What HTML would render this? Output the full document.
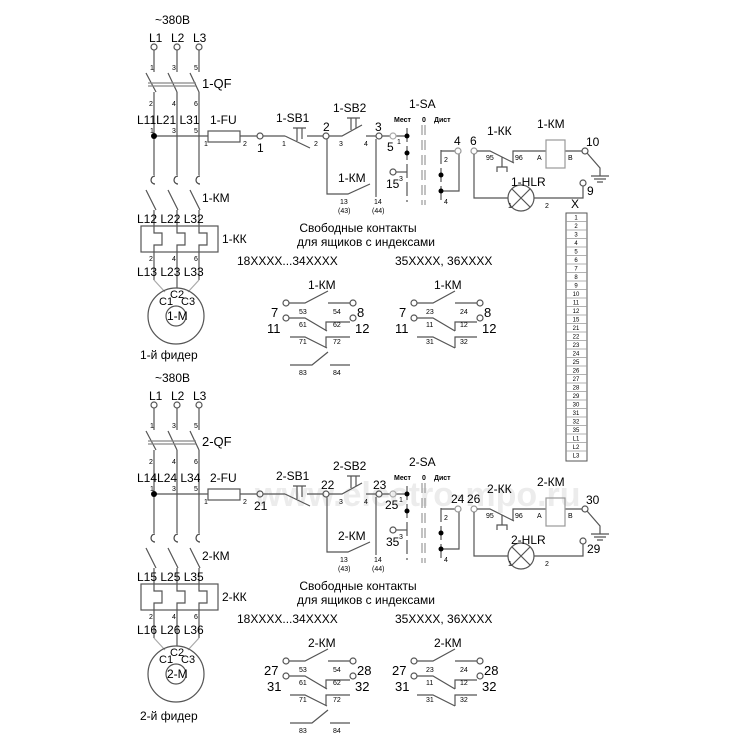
<!DOCTYPE html>
<html><head><meta charset="utf-8"><style>
body{margin:0;background:#fff}
svg{display:block}
text{font-family:"Liberation Sans",Arial,sans-serif;fill:#000}
.s{font-size:7px}
.m{font-size:12px}
.b{font-size:13px}
.c{font-size:11px}
</style></head><body>
<svg width="750" height="750" viewBox="0 0 750 750" xmlns="http://www.w3.org/2000/svg">
<defs>
<g id="sh" stroke="#555" stroke-width="1.2" fill="none">
 <circle cx="154" cy="47" r="3"/><circle cx="177" cy="47" r="3"/><circle cx="199" cy="47" r="3"/>
 <path d="M154 50V72M177 50V72M199 50V72"/>
 <path d="M146 73L156 92M168 73L177 92M190 73L199 92"/>
 <path d="M148 83H196M148 86H196" stroke="#888"/>
 <path d="M154 92V175M177 92V175M199 92V175"/>
 <path d="M154 136H208M240 136H257M263 136H285"/>
 <rect x="208" y="131" width="32" height="11"/>
 <circle cx="260" cy="136" r="3"/>
 <path d="M285 136L310 148M307 136H323"/>
 <path d="M297 141V128M302 139V128M293 128H306"/>
 <circle cx="326" cy="136" r="3"/>
 <path d="M329 136H342L362 125M366 136H376"/>
 <path d="M351 130V118M356 128V118M347 118H360"/>
 <circle cx="379" cy="136" r="3"/>
 <path d="M327 139V194H348L370 184M376 139V197"/>
 <path d="M382 136H390M396 136H407" /><circle cx="393" cy="136" r="3" stroke="#aaa"/>
 <path d="M407 128V202" stroke-dasharray="14 4"/>
 <path d="M422 125V205M425 125V205" stroke-dasharray="10 5" stroke="#999"/>
 <path d="M441 150V200" stroke-dasharray="14 4"/>
 <circle cx="393" cy="172" r="3"/><path d="M396 172H407"/>
 <path d="M441 151H455M459 154V191H441"/>
 <circle cx="458" cy="151" r="3" stroke="#999"/>
 <circle cx="474" cy="151" r="3" stroke="#999"/>
 <path d="M477 151H490L514 163M513 163V151H546M565 151H582"/>
 <path d="M502 157V167M497 172V167H507V172"/>
 <rect x="546" y="140" width="19" height="28" stroke="#999"/>
 <circle cx="585" cy="151" r="3"/>
 <path d="M587 153L600 168V176M591 176H609M594 179H606M597 182H603"/>
 <path d="M474 154V198H508M534 198H583V186"/>
 <circle cx="521" cy="198" r="13"/>
 <path d="M512 189L530 207M530 189L512 207"/>
 <circle cx="583" cy="183" r="3"/>
 <path d="M155 176a4 4 0 1 0 0 8M178 176a4 4 0 1 0 0 8M200 176a4 4 0 1 0 0 8" stroke="#444"/>
 <path d="M146 190L156 210M168 190L178 210M190 190L200 210"/>
 <path d="M154 210V226M177 210V226M199 210V226"/>
 <rect x="141" y="226" width="77" height="26"/>
 <path d="M154 226V233H162V245H154V252M177 226V233H185V245H177V252M199 226V233H207V245H199V252"/>
 <path d="M154 252V280M177 252V288M199 252V280"/>
 <path d="M154 280L165 292M199 280L188 292" stroke="#aaa"/>
 <circle cx="176" cy="316" r="28"/>
 <circle cx="176" cy="316" r="10"/>
 <circle cx="286" cy="303" r="3"/><path d="M289 303H305L328 291M328 303H350"/><circle cx="353" cy="303" r="3"/>
 <circle cx="286" cy="318" r="3"/><path d="M289 318H305L327 331M326 331V322H350"/><circle cx="353" cy="318" r="3"/>
 <path d="M290 337H305L327 348M326 348V337H350"/>
 <path d="M290 365H312L328 352M330 365H350"/>
 <circle cx="414" cy="303" r="3"/><path d="M417 303H433L455 291M455 303H477"/><circle cx="480" cy="303" r="3"/>
 <circle cx="414" cy="318" r="3"/><path d="M417 318H433L455 331M455 331V322H477"/><circle cx="480" cy="318" r="3"/>
 <path d="M417 337H433L455 348M455 348V337H477"/>
</g>
</defs>
<text x="255" y="506" font-size="34" font-weight="bold" style="fill:#ececec;font-family:'Liberation Sans',sans-serif">www.electro-mpo.ru</text>
<use href="#sh"/>
<use href="#sh" transform="translate(0,358)"/>
<g fill="#000"><circle cx="154" cy="136" r="3"/><circle cx="407" cy="136" r="2.5"/><circle cx="407" cy="153" r="2.5"/><circle cx="441" cy="175" r="2.5"/><circle cx="441" cy="191" r="2.5"/>
<circle cx="154" cy="494" r="3"/><circle cx="407" cy="494" r="2.5"/><circle cx="407" cy="511" r="2.5"/><circle cx="441" cy="533" r="2.5"/><circle cx="441" cy="549" r="2.5"/></g>

<g stroke="#555" fill="none"><rect x="566" y="213" width="21" height="248"/></g>
<text x="571" y="208" class="m">X</text>
<g stroke="#999" stroke-width="0.8">
<path d="M566 221.5H587M566 230H587M566 238.5H587M566 247H587M566 255.5H587M566 264H587M566 272.5H587M566 281H587M566 289.5H587M566 298H587M566 306.5H587M566 315H587M566 323.5H587M566 332H587M566 340.5H587M566 349H587M566 357.5H587M566 366H587M566 374.5H587M566 383H587M566 391.5H587M566 400H587M566 408.5H587M566 417H587M566 425.5H587M566 434H587M566 442.5H587M566 451H587"/>
</g>
<g font-size="6" text-anchor="middle">
<text x="576" y="219.5">1</text><text x="576" y="228">2</text><text x="576" y="236.5">3</text><text x="576" y="245">4</text><text x="576" y="253.5">5</text><text x="576" y="262">6</text><text x="576" y="270.5">7</text><text x="576" y="279">8</text><text x="576" y="287.5">9</text><text x="576" y="296">10</text><text x="576" y="304.5">11</text><text x="576" y="313">12</text><text x="576" y="321.5">15</text><text x="576" y="330">21</text><text x="576" y="338.5">22</text><text x="576" y="347">23</text><text x="576" y="355.5">24</text><text x="576" y="364">25</text><text x="576" y="372.5">26</text><text x="576" y="381">27</text><text x="576" y="389.5">28</text><text x="576" y="398">29</text><text x="576" y="406.5">30</text><text x="576" y="415">31</text><text x="576" y="423.5">32</text><text x="576" y="432">35</text><text x="576" y="440.5">L1</text><text x="576" y="449">L2</text><text x="576" y="457.5">L3</text>
</g>

<g>
<text x="155" y="24" class="m">~380В</text>
<text x="149" y="42" class="m">L1</text><text x="171" y="42" class="m">L2</text><text x="193" y="42" class="m">L3</text>
<text x="150" y="70" class="s">1</text><text x="172" y="70" class="s">3</text><text x="194" y="70" class="s">5</text>
<text x="202" y="88" class="b">1-QF</text>
<text x="149" y="106" class="s">2</text><text x="172" y="106" class="s">4</text><text x="194" y="106" class="s">6</text>
<text x="137" y="124" class="m">L11L21 L31</text>
<text x="150" y="133" class="s">1</text><text x="172" y="133" class="s">3</text><text x="194" y="133" class="s">5</text>
<text x="210" y="124" class="m">1-FU</text>
<text x="204" y="146" class="s">1</text><text x="243" y="146" class="s">2</text>
<text x="257" y="152" class="m">1</text>
<text x="276" y="122" class="m">1-SB1</text>
<text x="282" y="146" class="s">1</text><text x="314" y="146" class="s">2</text>
<text x="323" y="131" class="m">2</text>
<text x="333" y="112" class="m">1-SB2</text>
<text x="339" y="146" class="s">3</text><text x="364" y="146" class="s">4</text>
<text x="375" y="131" class="m">3</text>
<text x="338" y="182" class="m">1-КМ</text>
<text x="340" y="204" class="s">13</text><text x="338" y="213" class="s">(43)</text>
<text x="374" y="204" class="s">14</text><text x="372" y="213" class="s">(44)</text>
<text x="409" y="108" class="m">1-SA</text>
<text x="394" y="122" class="s" font-weight="bold">Мест</text><text x="422" y="122" class="s" font-weight="bold">0</text><text x="434" y="122" class="s" font-weight="bold">Дист</text>
<text x="387" y="151" class="m">5</text><text x="397" y="144" class="s">1</text>
<text x="386" y="188" class="m">15</text><text x="399" y="181" class="s">3</text>
<text x="444" y="162" class="s">2</text><text x="444" y="204" class="s">4</text>
<text x="454" y="145" class="m">4</text><text x="470" y="145" class="m">6</text>
<text x="487" y="135" class="m">1-КК</text>
<text x="486" y="160" class="s">95</text><text x="515" y="160" class="s">96</text>
<text x="537" y="160" class="s">A</text><text x="568" y="160" class="s">B</text>
<text x="537" y="128" class="m">1-КМ</text>
<text x="586" y="146" class="m">10</text>
<text x="587" y="195" class="m">9</text>
<text x="511" y="186" class="m">1-HLR</text>
<text x="508" y="208" class="s">1</text><text x="545" y="208" class="s">2</text>
<text x="202" y="202" class="m">1-КМ</text>
<text x="137" y="223" class="m">L12 L22 L32</text>
<text x="222" y="243" class="m">1-КК</text>
<text x="149" y="261" class="s">2</text><text x="172" y="261" class="s">4</text><text x="194" y="261" class="s">6</text>
<text x="137" y="276" class="m">L13 L23 L33</text>
<text x="159" y="305" class="c">C1</text><text x="170" y="298" class="c">C2</text><text x="181" y="305" class="c">C3</text>
<text x="167" y="320" class="m">1-М</text>
<text x="140" y="359" class="m">1-й фидер</text>
<text x="358" y="232" class="m" text-anchor="middle">Свободные контакты</text>
<text x="366" y="246" class="m" text-anchor="middle">для ящиков с индексами</text>
<text x="237" y="265" class="m">18XXXX...34XXXX</text>
<text x="395" y="265" class="m">35XXXX, 36XXXX</text>
<text x="308" y="289" class="m">1-КМ</text><text x="434" y="289" class="m">1-КМ</text>
<text x="271" y="317" class="b">7</text><text x="357" y="317" class="b">8</text>
<text x="267" y="333" class="b">11</text><text x="355" y="333" class="b">12</text>
<text x="299" y="314" class="s">53</text><text x="333" y="314" class="s">54</text>
<text x="299" y="327" class="s">61</text><text x="333" y="327" class="s">62</text>
<text x="299" y="344" class="s">71</text><text x="333" y="344" class="s">72</text>
<text x="299" y="375" class="s">83</text><text x="333" y="375" class="s">84</text>
<text x="399" y="317" class="b">7</text><text x="484" y="317" class="b">8</text>
<text x="395" y="333" class="b">11</text><text x="482" y="333" class="b">12</text>
<text x="426" y="314" class="s">23</text><text x="460" y="314" class="s">24</text>
<text x="426" y="327" class="s">11</text><text x="460" y="327" class="s">12</text>
<text x="426" y="344" class="s">31</text><text x="460" y="344" class="s">32</text>
</g>

<g transform="translate(0,358)">
<text x="155" y="24" class="m">~380В</text>
<text x="149" y="42" class="m">L1</text><text x="171" y="42" class="m">L2</text><text x="193" y="42" class="m">L3</text>
<text x="150" y="70" class="s">1</text><text x="172" y="70" class="s">3</text><text x="194" y="70" class="s">5</text>
<text x="202" y="88" class="b">2-QF</text>
<text x="149" y="106" class="s">2</text><text x="172" y="106" class="s">4</text><text x="194" y="106" class="s">6</text>
<text x="137" y="124" class="m">L14L24 L34</text>
<text x="150" y="133" class="s">1</text><text x="172" y="133" class="s">3</text><text x="194" y="133" class="s">5</text>
<text x="210" y="124" class="m">2-FU</text>
<text x="204" y="146" class="s">1</text><text x="243" y="146" class="s">2</text>
<text x="254" y="152" class="m">21</text>
<text x="276" y="122" class="m">2-SB1</text>
<text x="321" y="131" class="m">22</text>
<text x="333" y="112" class="m">2-SB2</text>
<text x="339" y="146" class="s">3</text><text x="364" y="146" class="s">4</text>
<text x="373" y="131" class="m">23</text>
<text x="338" y="182" class="m">2-КМ</text>
<text x="340" y="204" class="s">13</text><text x="338" y="213" class="s">(43)</text>
<text x="374" y="204" class="s">14</text><text x="372" y="213" class="s">(44)</text>
<text x="409" y="108" class="m">2-SA</text>
<text x="394" y="122" class="s" font-weight="bold">Мест</text><text x="422" y="122" class="s" font-weight="bold">0</text><text x="434" y="122" class="s" font-weight="bold">Дист</text>
<text x="385" y="151" class="m">25</text><text x="399" y="144" class="s">1</text>
<text x="386" y="188" class="m">35</text><text x="399" y="181" class="s">3</text>
<text x="444" y="162" class="s">2</text><text x="444" y="204" class="s">4</text>
<text x="451" y="145" class="m">24</text><text x="467" y="145" class="m">26</text>
<text x="487" y="135" class="m">2-КК</text>
<text x="486" y="160" class="s">95</text><text x="515" y="160" class="s">96</text>
<text x="537" y="160" class="s">A</text><text x="568" y="160" class="s">B</text>
<text x="537" y="128" class="m">2-КМ</text>
<text x="586" y="146" class="m">30</text>
<text x="587" y="195" class="m">29</text>
<text x="511" y="186" class="m">2-HLR</text>
<text x="508" y="208" class="s">1</text><text x="545" y="208" class="s">2</text>
<text x="202" y="202" class="m">2-КМ</text>
<text x="137" y="223" class="m">L15 L25 L35</text>
<text x="222" y="243" class="m">2-КК</text>
<text x="149" y="261" class="s">2</text><text x="172" y="261" class="s">4</text><text x="194" y="261" class="s">6</text>
<text x="137" y="276" class="m">L16 L26 L36</text>
<text x="159" y="305" class="c">C1</text><text x="170" y="298" class="c">C2</text><text x="181" y="305" class="c">C3</text>
<text x="167" y="320" class="m">2-М</text>
<text x="140" y="362" class="m">2-й фидер</text>
<text x="358" y="232" class="m" text-anchor="middle">Свободные контакты</text>
<text x="366" y="246" class="m" text-anchor="middle">для ящиков с индексами</text>
<text x="237" y="265" class="m">18XXXX...34XXXX</text>
<text x="395" y="265" class="m">35XXXX, 36XXXX</text>
<text x="308" y="289" class="m">2-КМ</text><text x="434" y="289" class="m">2-КМ</text>
<text x="264" y="317" class="b">27</text><text x="357" y="317" class="b">28</text>
<text x="267" y="333" class="b">31</text><text x="355" y="333" class="b">32</text>
<text x="299" y="314" class="s">53</text><text x="333" y="314" class="s">54</text>
<text x="299" y="327" class="s">61</text><text x="333" y="327" class="s">62</text>
<text x="299" y="344" class="s">71</text><text x="333" y="344" class="s">72</text>
<text x="299" y="375" class="s">83</text><text x="333" y="375" class="s">84</text>
<text x="392" y="317" class="b">27</text><text x="484" y="317" class="b">28</text>
<text x="395" y="333" class="b">31</text><text x="482" y="333" class="b">32</text>
<text x="426" y="314" class="s">23</text><text x="460" y="314" class="s">24</text>
<text x="426" y="327" class="s">11</text><text x="460" y="327" class="s">12</text>
<text x="426" y="344" class="s">31</text><text x="460" y="344" class="s">32</text>
</g>
</svg>
</body></html>
